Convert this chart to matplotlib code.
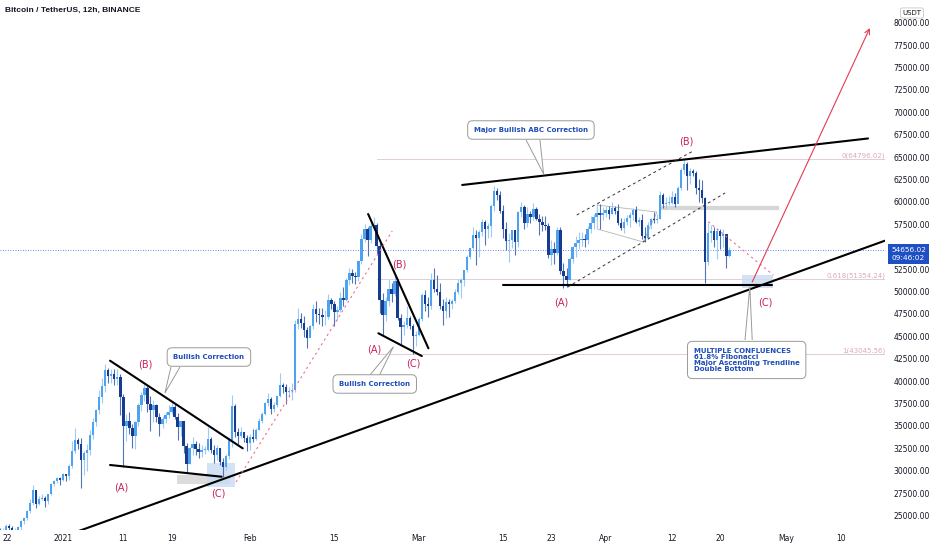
import numpy as np
import pandas as pd
import matplotlib
matplotlib.use("Agg")
import matplotlib.pyplot as plt
import matplotlib.dates as mdates
import matplotlib.transforms as mtransforms
from matplotlib.patches import Rectangle, Polygon
from matplotlib import font_manager

# --- 12h candles BTC/USDT (thousand USDT), first candle 2020-12-21 12:00 ---
first_open = 23.3
closes = [
    22.8,
    23.3, 23.8, 23.6, 23.2, 23.3, 23.7, 24.4, 24.7, 25.5, 26.4,
    27.8, 26.3, 26.9, 27.0, 26.6, 27.4, 28.5, 28.9, 29.2, 29.0,
    29.6, 29.4, 30.5, 32.2, 33.4, 33.0, 31.2, 32.0, 32.3, 34.0,
    35.4, 36.8, 38.2, 39.4, 41.2, 40.6, 40.8, 40.2, 40.5, 38.2,
    35.0, 35.5, 34.8, 33.9, 35.4, 37.3, 38.4, 39.2, 37.5, 36.8,
    37.3, 36.0, 35.2, 35.8, 36.2, 36.6, 37.1, 36.0, 34.9, 35.5,
    32.8, 30.8, 32.5, 33.0, 32.4, 32.1, 32.3, 32.3, 33.5, 32.3,
    31.8, 32.5, 31.0, 30.4, 31.6, 33.4, 37.2, 34.3, 33.9, 34.3,
    33.7, 33.1, 33.8, 33.5, 34.6, 35.5, 36.3, 37.6, 38.0, 36.9,
    37.3, 38.3, 39.6, 39.3, 38.8, 38.9, 39.0, 46.4, 46.9, 46.5,
    45.7, 44.8, 46.2, 48.0, 47.5, 47.4, 47.1, 47.2, 49.0, 48.6,
    47.7, 47.9, 49.3, 49.1, 51.3, 52.1, 51.7, 51.6, 53.4, 55.9,
    57.0, 55.8, 57.3, 57.4, 55.1, 49.0, 47.4, 48.9, 50.3, 49.7,
    51.2, 47.0, 46.0, 46.3, 47.0, 46.2, 45.0, 45.1,
    46.9, 49.6, 48.6, 48.4, 51.3, 50.3, 50.0, 48.4, 47.8, 48.8,
    48.6, 48.9, 49.9, 51.0, 51.3, 52.4, 53.9, 54.9, 56.3, 56.0,
    56.6, 57.8, 57.0, 57.3, 59.5, 61.2, 60.8, 59.0, 57.0, 55.6,
    55.8, 56.9, 55.5, 58.9, 59.4, 57.6, 58.6, 58.3, 59.2, 58.1,
    57.8, 57.4, 57.3, 54.1, 54.8, 54.3, 56.9, 52.3, 51.7, 51.3,
    53.6, 55.0, 55.4, 55.8, 55.9, 55.8, 57.0, 57.6, 58.3, 58.8,
    58.5, 58.8,
    59.1, 58.7, 59.3, 59.0, 57.6, 57.1, 57.8, 58.2, 58.5, 59.1,
    57.8, 58.0, 56.2, 56.0, 57.4, 58.1, 58.0, 58.1, 60.8, 59.8,
    59.9, 59.9, 60.5, 59.8, 61.6, 63.6, 64.2, 62.9, 63.4, 63.2,
    61.6, 61.3, 60.4, 53.3, 56.5, 56.8, 55.8, 56.8, 56.2, 56.4,
    54.0, 54.656,
]
highs = [
    23.6,
    23.6, 24.0, 24.1, 23.8, 23.6, 23.8, 24.5, 24.8, 25.6, 26.8,
    28.4, 27.9, 27.2, 27.4, 27.2, 27.4, 28.6, 29.0, 29.3, 29.3,
    29.7, 29.6, 30.7, 33.3, 34.8, 33.6, 33.6, 32.2, 33.0, 34.5,
    35.9, 36.9, 39.0, 40.4, 41.95, 41.5, 41.4, 41.3, 41.3, 40.8,
    38.6, 36.3, 36.6, 35.2, 35.6, 37.6, 38.8, 39.7, 39.6, 38.3,
    37.9, 37.5, 36.4, 36.1, 36.6, 37.3, 37.8, 37.5, 36.4, 35.6,
    35.5, 33.1, 32.6, 33.8, 33.3, 33.1, 32.9, 32.8, 34.9, 33.8,
    32.9, 32.9, 32.5, 31.4, 31.9, 33.6, 38.5, 37.5, 34.8, 34.9,
    34.3, 34.0, 34.1, 34.7, 34.8, 35.9, 36.6, 37.7, 38.7, 38.2,
    37.7, 38.4, 40.9, 39.8, 39.7, 39.3, 39.8, 46.8, 48.2, 47.6,
    47.3, 46.0, 46.3, 48.6, 48.9, 48.2, 48.2, 47.9, 49.7, 49.3,
    48.9, 48.4, 50.0, 50.5, 51.5, 52.6, 52.5, 52.2, 53.5, 56.4,
    57.5, 57.2, 58.0, 58.35, 57.6, 55.6, 49.8, 49.4, 51.4, 50.9,
    52.0, 51.4, 47.5, 46.7, 48.4, 47.3, 46.4, 45.6,
    47.1, 49.8, 50.2, 49.4, 52.1, 52.6, 51.8, 51.0, 49.2, 49.4,
    49.2, 49.2, 50.3, 51.4, 51.5, 52.4, 54.1, 54.9, 57.2, 56.9,
    56.9, 58.1, 58.0, 57.6, 59.8, 61.8, 61.6, 61.2, 59.7, 57.8,
    56.5, 56.9, 56.9, 59.0, 60.0, 59.6, 59.4, 59.0, 59.9, 59.4,
    58.6, 58.4, 58.4, 57.6, 55.8, 55.5, 57.2, 57.2, 53.2, 52.6,
    53.9, 55.1, 56.2, 56.6, 56.6, 56.4, 57.3, 58.4, 58.6, 59.4,
    59.8, 59.4,
    59.5, 59.5, 60.0, 59.5, 59.8, 58.2, 58.2, 58.5, 58.9, 59.3,
    59.5, 58.3, 58.6, 57.2, 57.8, 58.2, 58.9, 58.6, 61.2, 61.0,
    60.5, 60.7, 61.2, 61.0, 61.8, 63.8, 64.85, 64.5, 63.8, 63.7,
    63.5, 62.6, 62.4, 60.6, 57.6, 57.4, 57.2, 57.1, 57.0, 57.0,
    56.4, 55.0,
]
lows = [
    22.4,
    22.6, 23.1, 23.3, 22.7, 22.8, 23.1, 23.4, 24.1, 24.5, 25.3,
    26.2, 25.8, 26.2, 26.7, 25.9, 26.3, 27.3, 28.3, 28.6, 28.4,
    28.9, 28.9, 29.0, 30.3, 32.0, 32.4, 28.1, 29.5, 30.0, 31.8,
    33.5, 35.0, 36.3, 37.6, 38.8, 39.8, 39.8, 39.6, 39.6, 36.2,
    30.4, 33.3, 34.1, 32.5, 32.4, 35.0, 36.7, 37.8, 36.6, 34.4,
    35.4, 35.4, 33.9, 34.8, 35.3, 35.9, 36.3, 35.8, 33.4, 33.9,
    32.0, 29.9, 30.7, 31.8, 31.8, 31.4, 31.5, 31.9, 32.2, 32.0,
    30.9, 31.2, 30.6, 29.3, 30.1, 31.3, 32.7, 33.8, 33.0, 33.6,
    33.2, 32.2, 32.3, 33.2, 33.4, 34.5, 35.3, 36.2, 37.2, 36.3,
    36.6, 37.1, 38.2, 38.7, 37.4, 38.2, 37.9, 38.8, 45.8, 45.9,
    44.9, 43.7, 44.9, 45.8, 46.6, 46.4, 46.1, 46.3, 46.9, 48.1,
    46.2, 46.8, 47.7, 48.4, 48.9, 50.7, 50.9, 50.8, 51.2, 53.1,
    55.5, 54.0, 55.4, 56.9, 54.2, 47.6, 45.0, 46.7, 48.4, 48.8,
    49.5, 46.8, 44.1, 45.1, 45.9, 45.8, 43.0, 43.9,
    45.0, 46.7, 47.8, 47.1, 48.1, 50.0, 49.6, 48.0, 46.3, 47.0,
    47.1, 48.0, 48.7, 49.7, 49.3, 50.6, 52.2, 53.6, 54.7, 53.0,
    53.9, 56.2, 55.2, 56.0, 56.1, 59.0, 60.2, 58.8, 56.0, 54.6,
    53.3, 54.9, 54.1, 55.0, 58.3, 57.0, 57.2, 57.7, 58.0, 58.0,
    56.3, 56.8, 56.9, 53.7, 53.0, 53.1, 54.1, 52.0, 50.4, 50.5,
    51.3, 53.2, 53.9, 54.7, 55.1, 55.0, 55.3, 56.5, 57.0, 58.0,
    57.0, 58.0,
    58.3, 58.1, 58.6, 58.6, 57.4, 56.9, 56.5, 57.4, 57.2, 58.0,
    57.7, 57.3, 55.9, 55.5, 55.9, 57.0, 57.7, 57.6, 58.1, 59.3,
    59.2, 59.6, 59.8, 59.4, 59.9, 61.3, 63.1, 61.3, 62.0, 62.9,
    60.9, 60.0, 59.9, 50.9, 53.0, 55.5, 55.0, 53.6, 54.8, 55.0,
    52.6, 53.8,
]
last_price = 54656.02
time_left = "09:46:02"

# --- chart drawings: x in days after 2021-01-01, y in USDT ---
trend_x, trend_y = [1.7, 136.3], [23050, 55670]
abc_top_x, abc_top_y = [66.2, 133.5], [61890, 67080]
bottom_x, bottom_y = [73.0, 117.6], [50780, 50780]
jan_top_x, jan_top_y = [7.8, 29.8], [42280, 32500]
jan_low_x, jan_low_y = [7.8, 26.3], [30640, 29330]
feb_top_x, feb_top_y = [50.6, 60.6], [58650, 43660]
feb_low_x, feb_low_y = [52.3, 59.5], [45340, 42800]
pink_up_x, pink_up_y = [28.7, 54.6], [28740, 56750]
chan_top_x, chan_top_y = [85.2, 104.5], [58540, 65680]
chan_low_x, chan_low_y = [83.7, 109.8], [50500, 61000]
flag_x = [88.6, 98.5, 96.2, 88.6, 88.6]
flag_y = [59650, 58870, 55530, 56980, 59650]
pink_down_x, pink_down_y = [107.0, 117.8], [57790, 51840]
target_x, target_y = [114.3, 133.8], [51060, 79400]

fib_levels = [64796.02, 51354.24, 43045.56]
fib_names = ["0", "0.618", "1"]
fib_start = 52.1

wave_labels = ["(B)", "(A)", "(C)", "(B)", "(A)", "(C)", "(A)", "(B)", "(C)"]
wave_x = [13.7, 9.7, 25.8, 55.7, 51.6, 58.1, 82.6, 103.4, 116.4]
wave_y = [41880, 28110, 27480, 53070, 43550, 41990, 48750, 66720, 48800]

T0 = mdates.date2num(pd.Timestamp("2021-01-01"))


def dx(days):
    return T0 + np.asarray(days, dtype=float)


UP = "#4fa2ee"
UP_WICK = "#9fcaf3"
DOWN = "#173c8e"
DOWN_WICK = "#4f74b8"
RED = "#e53950"
PINK = "#f06a93"
TXT_BLUE = "#1f4cb8"
WAVE = "#c8205e"

plt.rcParams["font.family"] = ["DejaVu Sans"]
installed = {f.name for f in font_manager.fontManager.ttflist}
narrow = "Liberation Sans Narrow" if "Liberation Sans Narrow" in installed else "Liberation Sans"

fig = plt.figure(figsize=(9.32, 5.5), dpi=100)
ax = fig.add_axes([0, 20 / 550, 885 / 932, 530 / 550])

times = pd.date_range("2020-12-21 12:00", periods=len(closes), freq="12h")
x = mdates.date2num(times)
c = np.array(closes) * 1000
h = np.array(highs) * 1000
l = np.array(lows) * 1000
o = np.concatenate([[first_open * 1000], c[:-1]])
up = c >= o
body_cols = np.where(up, UP, DOWN)
wick_cols = np.where(up, UP_WICK, DOWN_WICK)

ax.vlines(x, l, h, colors=wick_cols, lw=0.8, zorder=3)
body_lo = np.minimum(o, c)
body_h = np.maximum(np.abs(c - o), 80)
ax.bar(x, body_h, bottom=body_lo, width=0.4, color=body_cols, linewidth=0, zorder=4)

# current price line
ax.axhline(last_price, color="#2962ff", lw=0.6, ls=(0, (1, 2)), zorder=2)

# fib levels
yblend = mtransforms.blended_transform_factory(ax.transAxes, ax.transData)
for lvl, name in zip(fib_levels, fib_names):
    ax.plot(dx([fib_start, 140]), [lvl, lvl], color="#e2cdd5", lw=0.7, zorder=1)
    ax.text(1.0, lvl, f"{name}({lvl:.2f})", color="#d9a9ba", fontsize=5,
            ha="right", va="bottom", clip_on=False, transform=yblend)

# shaded zones
ax.add_patch(Rectangle((dx(18.9), 28520), 8.8, 1000, color="#dcdcdc", lw=0, zorder=1))
ax.add_patch(Rectangle((dx(23.9), 28180), 4.6, 2680, color="#c9ddf3", alpha=0.8, lw=0, zorder=1.5))
ax.add_patch(Rectangle((dx(112.6), 50390), 5.1, 1450, color="#c9ddf3", alpha=0.8, lw=0, zorder=1.5))
ax.plot(dx([99.5, 118.4]), [59320, 59320], color="#d6d6d6", lw=3, zorder=1)

# trend lines
black = dict(color="black", lw=1.5, zorder=5, solid_capstyle="round")
for xs, ys in [(trend_x, trend_y), (abc_top_x, abc_top_y), (bottom_x, bottom_y),
               (jan_top_x, jan_top_y), (jan_low_x, jan_low_y),
               (feb_top_x, feb_top_y), (feb_low_x, feb_low_y)]:
    ax.plot(dx(xs), ys, **black)
for xs, ys in [(chan_top_x, chan_top_y), (chan_low_x, chan_low_y)]:
    ax.plot(dx(xs), ys, color="#333333", lw=0.7, ls=(0, (3, 3)), zorder=5)
ax.plot(dx(flag_x), flag_y, color="#b5b5b5", lw=0.6, zorder=2)
ax.plot(dx(pink_up_x), pink_up_y, color=PINK, lw=0.8, ls=(0, (2, 3)), zorder=5)
ax.plot(dx(pink_down_x), pink_down_y, color=PINK, lw=0.8, ls=(0, (2, 3)), zorder=5)
ax.annotate("", xy=(dx(target_x[1]), target_y[1]), xytext=(dx(target_x[0]), target_y[0]),
            arrowprops=dict(arrowstyle="->", color=RED, lw=0.8, shrinkA=0, shrinkB=0,
                            mutation_scale=9), zorder=6)

for t, wx, wy in zip(wave_labels, wave_x, wave_y):
    ax.text(dx(wx), wy, t, color=WAVE, fontsize=7, ha="center", va="center", zorder=7)


def callout(text, cx, cy, base_x, base_y, tip_x, tip_y, ha="center"):
    tri = Polygon([(dx(base_x[0]), base_y), (dx(tip_x), tip_y), (dx(base_x[1]), base_y)],
                  closed=False, facecolor="white", edgecolor="#9a9a9a", lw=0.7, zorder=8)
    ax.add_patch(tri)
    ax.text(dx(cx), cy, text, color=TXT_BLUE, fontsize=5, fontweight="bold",
            ha=ha, va="center", linespacing=1.05, zorder=9,
            bbox=dict(boxstyle="round,pad=0.9,rounding_size=0.7", fc="white",
                      ec="#9a9a9a", lw=0.7))


callout("Bullish Correction", 24.2, 42690, [17.9, 19.4], 41576, 16.9, 38675)
callout("Bullish Correction", 51.7, 39680, [50.9, 52.5], 40683, 54.8, 43842)
callout("Major Bullish ABC Correction", 77.6, 68025, [76.8, 79.1], 66909, 79.7, 63115)
callout("MULTIPLE CONFLUENCES\n61.8% Fibonacci\nMajor Ascending Trendline\nDouble Bottom",
        104.6, 42360, [113.1, 114.3], 44589, 113.9, 50538, ha="left")

# axes
ax.set_xlim(dx(-10.45), dx(136.32))
ax.set_ylim(23385, 82533)
for s in ax.spines.values():
    s.set_visible(False)

tick_dates = ["2020-12-22", "2021-01-01", "2021-01-11", "2021-01-19", "2021-02-01",
              "2021-02-15", "2021-03-01", "2021-03-15", "2021-03-23", "2021-04-01",
              "2021-04-12", "2021-04-20", "2021-05-01", "2021-05-10"]
tick_names = ["22", "2021", "11", "19", "Feb", "15", "Mar", "15", "23", "Apr",
              "12", "20", "May", "10"]
ax.set_xticks(mdates.date2num(pd.to_datetime(tick_dates)))
ax.set_xticklabels(tick_names, fontsize=5.5, color="#131722")
ax.get_xticklabels()[0].set_horizontalalignment("left")
ax.tick_params(axis="x", length=0, pad=3)

# the 55000 label sits under the live price tag
yt = np.arange(25000, 80001, 2500)
ax.yaxis.tick_right()
ax.set_yticks(yt)
ax.set_yticklabels(["" if v == 55000 else f"{v:.2f}" for v in yt], fontsize=5.5,
                   color="#131722")
ax.tick_params(axis="y", length=0, pad=6)

# price tag
ax.annotate(f"{last_price:.2f}\n{time_left}", xy=(1.0, last_price), xycoords=yblend,
            xytext=(4.5, -3), textcoords="offset points", color="white", fontsize=5.3,
            ha="left", va="center", linespacing=1.25, annotation_clip=False, zorder=10,
            bbox=dict(boxstyle="square,pad=0.4", fc="#1f4fc4", ec="none"))

fig.text(5 / 932, 1 - 10 / 550, "Bitcoin / TetherUS, 12h, BINANCE", fontsize=6,
         fontweight="bold", family=[narrow, "DejaVu Sans"], color="#131722",
         ha="left", va="center")
fig.text(912 / 932, 1 - 13 / 550, "USDT", fontsize=5, color="#131722", ha="center", va="center",
         bbox=dict(boxstyle="round,pad=0.3", fc="white", ec="#c8c8c8", lw=0.6))

fig.savefig("out.png", dpi=100, facecolor="white")
